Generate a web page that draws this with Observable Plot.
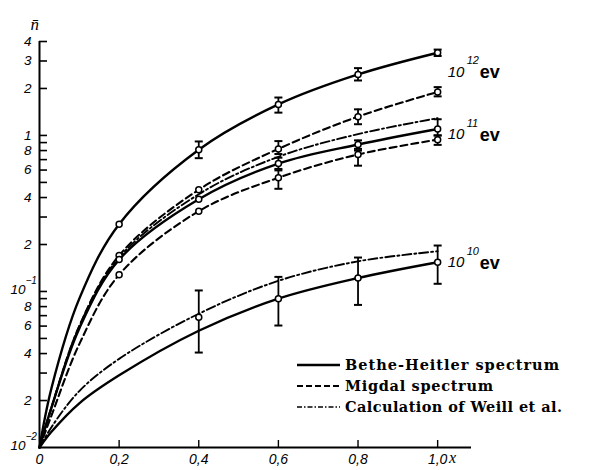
<!DOCTYPE html>
<html><head><meta charset="utf-8">
<script src="https://cdn.jsdelivr.net/npm/d3@7"></script>
<script src="https://cdn.jsdelivr.net/npm/@observablehq/plot@0.6"></script>
<style>
html,body{margin:0;padding:0;background:#fff;}
#chart{width:592px;height:470px;position:relative;}
</style></head><body><div id="chart"></div>
<script>
// ---- data ----
const xGrid   = [0, 0.03, 0.1, 0.2, 0.4, 0.6, 0.8, 1.0];
// 10^12 ev
const bh12    = [0.01, 0.024, 0.090, 0.27, 0.81, 1.58, 2.46, 3.39];
const mig12   = [0.01, 0.018, 0.060, 0.17, 0.449, 0.82, 1.32, 1.90];
// 10^11 ev
const bh11    = [0.01, 0.018, 0.058, 0.16, 0.39, 0.66, 0.875, 1.10];
const mig11   = [0.01, 0.016, 0.046, 0.128, 0.327, 0.536, 0.755, 0.94];
const weill11 = [0.01, 0.018, 0.060, 0.165, 0.42, 0.73, 1.02, 1.29];
// 10^10 ev
const bh10    = [0.01, 0.0126, 0.0192, 0.029, 0.056, 0.090, 0.122, 0.154];
const weill10 = [0.01, 0.0135, 0.023, 0.037, 0.072, 0.117, 0.156, 0.181];

// computed points with error bars (NaN = no bar)
const ptX  = [0.2, 0.4, 0.6, 0.8, 1.0,   0.2, 0.4, 0.6, 0.8, 1.0,   0.2, 0.4, 0.6, 0.8, 1.0,   0.2, 0.4, 0.6, 0.8, 1.0,   0.4, 0.6, 0.8, 1.0];
const ptY  = [0.27, 0.81, 1.58, 2.46, 3.39,   0.17, 0.449, 0.82, 1.32, 1.90,   0.16, 0.39, 0.66, 0.875, 1.10,   0.128, 0.327, 0.536, 0.755, 0.94,   0.0684, 0.0898, 0.122, 0.154];
const ptLo = [NaN, 0.715, 1.40, 2.25, 3.23,   NaN, NaN, 0.76, 1.18, 1.78,   NaN, NaN, 0.61, 0.82, 1.0,   NaN, NaN, 0.455, 0.64, 0.87,   0.0406, 0.0605, 0.082, 0.112];
const ptHi = [NaN, 0.915, 1.75, 2.70, 3.55,   NaN, NaN, 0.92, 1.47, 2.04,   NaN, NaN, 0.72, 0.93, 1.27,   NaN, NaN, 0.597, 0.80, 1.0,   0.1015, 0.124, 0.165, 0.197];

// axis ticks and labels
const yTickVals  = [4, 3, 2, 1, 0.9, 0.8, 0.7, 0.6, 0.5, 0.4, 0.3, 0.2, 0.1, 0.09, 0.08, 0.07, 0.06, 0.05, 0.04, 0.03, 0.02];
const yLabelVals = [4, 3, 2, 1, 0.8, 0.6, 0.4, 0.2, 0.08, 0.06, 0.04, 0.02];
const yLabelText = ["4", "3", "2", "1", "8", "6", "4", "2", "8", "6", "4", "2"];
const yPowVals   = [0.1, 0.01];
const yPowText   = ["−1", "−2"];
const xTickVals  = [0.2, 0.4, 0.6, 0.8, 1.0];
const xLabelVals = [0, 0.2, 0.4, 0.6, 0.8, 1.0];
const xLabelText = ["0", "0,2", "0,4", "0,6", "0,8", "1,0"];
const energyExp  = ["12", "11", "10"];
const legendText = ["Bethe-Heitler spectrum", "Migdal spectrum", "Calculation of Weill et al."];

// ---- build tables ----
const curves = [
  {id: "bh12", style: "solid", v: bh12},
  {id: "mig12", style: "dash", v: mig12},
  {id: "bh11", style: "solid", v: bh11},
  {id: "mig11", style: "dash", v: mig11},
  {id: "weill11", style: "dashdot", v: weill11},
  {id: "bh10", style: "solid", v: bh10},
  {id: "weill10", style: "dashdot", v: weill10}
];
const rows = curves.flatMap(c => xGrid.map((x, i) => ({x, y: c.v[i], id: c.id, style: c.style})));
const pts = ptX.map((x, i) => ({x, y: ptY[i], lo: ptLo[i], hi: ptHi[i]}));
const bars = pts.filter(d => !isNaN(d.lo));
const caps = bars.flatMap(d => [{x: d.x, y: d.lo}, {x: d.x, y: d.hi}]);

const capSymbol = {draw(ctx, size) { const r = Math.sqrt(size / Math.PI); ctx.moveTo(-r, 0); ctx.lineTo(r, 0); }};

const W = 592, H = 470, mL = 39, mR = 121, mT = 41, mB = 23;
const fw = W - mL - mR, fh = H - mT - mB;
const DASH = "7,4", DASHDOT = "9,3,2,3";
const CURVE = "catmull-rom";
const ital = {fontStyle: "italic", fontFamily: "Liberation Sans", fill: "black"};

const energyAnchor = [bh12[bh12.length - 1], bh11[bh11.length - 1], bh10[bh10.length - 1]];
const energyDy = [19, 5, 0];

const marks = [
  // curves
  Plot.line(rows.filter(d => d.style === "solid"), {x: "x", y: "y", z: "id", stroke: "black", strokeWidth: 2.4, curve: CURVE}),
  Plot.line(rows.filter(d => d.style === "dash"), {x: "x", y: "y", z: "id", stroke: "black", strokeWidth: 2.1, strokeDasharray: DASH, curve: CURVE}),
  Plot.line(rows.filter(d => d.style === "dashdot"), {x: "x", y: "y", z: "id", stroke: "black", strokeWidth: 1.9, strokeDasharray: DASHDOT, curve: CURVE}),
  // error bars
  Plot.ruleX(bars, {x: "x", y1: "lo", y2: "hi", stroke: "black", strokeWidth: 1.8}),
  Plot.dot(caps, {x: "x", y: "y", r: 4, symbol: capSymbol, stroke: "black", strokeWidth: 2}),
  Plot.dot(pts, {x: "x", y: "y", r: 3, fill: "white", stroke: "black", strokeWidth: 1.5}),
  // axes
  Plot.ruleX([0], {stroke: "black", strokeWidth: 2}),
  Plot.ruleY([0.01], {stroke: "black", strokeWidth: 2}),
  Plot.tickY(yTickVals, {y: d => d, stroke: "black", strokeWidth: 1.6, insetRight: fw - 8}),
  Plot.tickX(xTickVals, {x: d => d, stroke: "black", strokeWidth: 1.4, insetTop: fh - 7}),
  Plot.text(yLabelVals, {y: d => d, text: (d, i) => yLabelText[i], frameAnchor: "left", dx: -8, textAnchor: "end", fontSize: 13.5, ...ital}),
  Plot.text(yPowVals, {y: d => d, text: () => "10", frameAnchor: "left", dx: -14, dy: -2, textAnchor: "end", fontSize: 13.5, ...ital}),
  Plot.text(yPowVals, {y: d => d, text: (d, i) => yPowText[i], frameAnchor: "left", dx: -14, dy: -11, textAnchor: "start", fontSize: 10, ...ital}),
  Plot.text(xLabelVals, {x: d => d, text: (d, i) => xLabelText[i], frameAnchor: "bottom", dy: 16, fontSize: 14, ...ital}),
  Plot.text(["x"], {x: () => 1.0, text: d => d, frameAnchor: "bottom", dx: 15, dy: 15, fontSize: 16, fontStyle: "italic", fontFamily: "Liberation Serif"}),
  Plot.text(["n\u0304"], {frameAnchor: "top-left", text: d => d, dx: -9, dy: -24, fontSize: 17, fontStyle: "italic", fontFamily: "Liberation Serif"}),
  // energy labels
  ...energyExp.flatMap((e, i) => [
    Plot.text([energyAnchor[i]], {x: () => 1.0, y: d => d, text: () => "10", dx: 10, dy: energyDy[i], textAnchor: "start", fontSize: 15, ...ital}),
    Plot.text([energyAnchor[i]], {x: () => 1.0, y: d => d, text: () => e, dx: 29, dy: energyDy[i] - 11, textAnchor: "start", fontSize: 11, ...ital}),
    Plot.text([energyAnchor[i]], {x: () => 1.0, y: d => d, text: () => "ev", dx: 42, dy: energyDy[i] + 1, textAnchor: "start", fontSize: 18, fontWeight: "bold", fontFamily: "Liberation Sans"})
  ])
];

const chart = Plot.plot({
  width: W, height: H,
  marginLeft: mL, marginRight: mR, marginTop: mT, marginBottom: mB,
  x: {domain: [0, 1.085], axis: null},
  y: {type: "log", domain: [0.01, 4], axis: null},
  style: {background: "white", fontFamily: "Liberation Sans"},
  marks
});
document.getElementById("chart").appendChild(chart);

// legend inside the plot area
const svg = d3.select(chart);
const lg = svg.append("g").attr("class", "legend").attr("text-anchor", "start");
const dashes = [null, "6,3", "5,2,1.5,2"];
const widths = [2.6, 2, 1.6];
const legendLen = [214, 148, 217];
legendText.forEach((t, i) => {
  const y = 365 + i * 21;
  lg.append("line").attr("x1", 297).attr("x2", 340).attr("y1", y).attr("y2", y)
    .attr("stroke", "black").attr("stroke-width", widths[i]).attr("stroke-dasharray", dashes[i]);
  lg.append("text").attr("x", 345).attr("y", y).attr("dy", "0.35em")
    .attr("text-anchor", "start")
    .attr("font-family", "DejaVu Serif").attr("font-weight", "bold").attr("font-size", 14.5)
    .attr("textLength", legendLen[i]).attr("lengthAdjust", "spacing")
    .attr("fill", "black").text(t);
});
</script>
</body></html>
